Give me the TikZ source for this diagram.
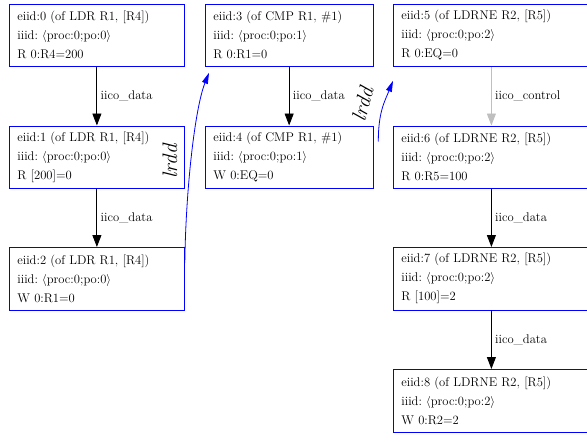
\documentclass[tikz,border=0pt]{standalone}
\usetikzlibrary{arrows.meta}

\begin{document}
\begin{tikzpicture}[x=1pt,y=-1pt]
\tikzstyle{event}=[draw=blue, line width=0.8pt, anchor=north west, align=left,
  inner xsep=8pt, minimum height=62.5pt, font=\fontsize{12.6}{19}\selectfont\frenchspacing]
\tikzstyle{iico}=[draw, line width=0.9pt, -{Triangle[length=12pt,width=9pt]}]
\tikzstyle{lbl}=[right, font=\fontsize{12.6}{15}\selectfont, text=black]
\tikzstyle{lrdd}=[draw=blue, line width=0.8pt, -{Triangle[length=11pt,width=6pt]}]
\tikzstyle{lrddlbl}=[font=\fontsize{21}{24}\selectfont]

\useasboundingbox (0,0) rectangle (587,442);

% proc 0, LDR R1,[R4]
\node[event, text width=159pt] (e0) at (9,3.5)
  {eiid:0 (of LDR R1, [R4])\\iiid: $\langle$proc:0;po:0$\rangle$\\R 0:R4=200};
\node[event, text width=159pt] (e1) at (9,125.5)
  {eiid:1 (of LDR R1, [R4])\\iiid: $\langle$proc:0;po:0$\rangle$\\R [200]=0};
\node[event, text width=159pt] (e2) at (9,247)
  {eiid:2 (of LDR R1, [R4])\\iiid: $\langle$proc:0;po:0$\rangle$\\W 0:R1=0};

% CMP R1,#1
\node[event, text width=151.5pt] (e3) at (205,3.5)
  {eiid:3 (of CMP R1, \#1)\\iiid: $\langle$proc:0;po:1$\rangle$\\R 0:R1=0};
\node[event, text width=151.5pt] (e4) at (205,125.5)
  {eiid:4 (of CMP R1, \#1)\\iiid: $\langle$proc:0;po:1$\rangle$\\W 0:EQ=0};

% LDRNE R2,[R5]
\node[event, text width=180pt] (e5) at (393,3.5)
  {eiid:5 (of LDRNE R2, [R5])\\iiid: $\langle$proc:0;po:2$\rangle$\\R 0:EQ=0};
\node[event, text width=180pt] (e6) at (393,125.5)
  {eiid:6 (of LDRNE R2, [R5])\\iiid: $\langle$proc:0;po:2$\rangle$\\R 0:R5=100};
\node[event, text width=180pt] (e7) at (393,247)
  {eiid:7 (of LDRNE R2, [R5])\\iiid: $\langle$proc:0;po:2$\rangle$\\R [100]=2};
\node[event, text width=180pt] (e8) at (393,369)
  {eiid:8 (of LDRNE R2, [R5])\\iiid: $\langle$proc:0;po:2$\rangle$\\W 0:R2=2};

\path
(e0) edge[iico] node[lbl] {iico\_data} (e1)
(e1) edge[iico] node[lbl] {iico\_data} (e2)
(e3) edge[iico] node[lbl] {iico\_data} (e4)
(e5) edge[iico, draw=black!25] node[lbl] {iico\_control} (e6)
(e6) edge[iico] node[lbl] {iico\_data} (e7)
(e7) edge[iico] node[lbl] {iico\_data} (e8);

% register dependencies across instructions
\path[lrdd] ([yshift=-16pt]e2.north east)
  .. controls +(1,-75) and +(-14,35) ..
  node[lrddlbl, pos=0.5, xshift=-22pt, yshift=-8pt, rotate=90] {\textit{lrdd}}
  ([xshift=4pt,yshift=-6pt]e3.south west);
\path[lrdd] ([xshift=5pt,yshift=-16pt]e4.north east)
  .. controls +(0,-30) and +(-8,20) ..
  node[lrddlbl, pos=0.5, xshift=-20pt, yshift=4pt, rotate=75] {\textit{lrdd}}
  ([yshift=-14pt]e5.south west);
\end{tikzpicture}
\end{document}
